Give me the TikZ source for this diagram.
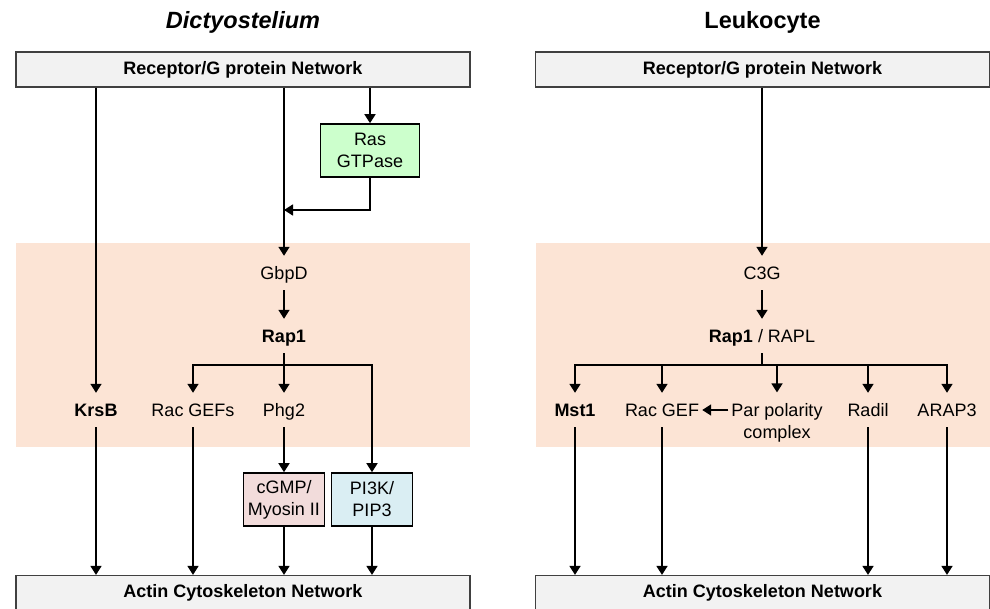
\documentclass[tikz,border=0pt]{standalone}
\usepackage{fontspec}
\setmainfont{Liberation Sans}
\usepackage{tikz}
\usetikzlibrary{positioning, backgrounds, calc, arrows.meta}
\definecolor{figgrey}{rgb}{0.949, 0.949, 0.949}
\definecolor{figedge}{rgb}{0.25, 0.25, 0.25}
\definecolor{figpeach}{rgb}{0.988, 0.894, 0.835}
\definecolor{figgreen}{rgb}{0.8, 1.0, 0.8}
\definecolor{figpink}{rgb}{0.949, 0.863, 0.859}
\definecolor{figblue}{rgb}{0.855, 0.933, 0.953}
\newcommand{\figfont}{\fontsize{18}{22}\selectfont}
\tikzset{
    netbox/.style={draw=figedge, line width=1.2pt, fill=figgrey, minimum width=454pt, minimum height=35pt, inner sep=0pt, font=\figfont\bfseries},
    band/.style={fill=figpeach, minimum width=454pt, minimum height=204pt, inner sep=0pt},
    pathbox/.style={draw=black, line width=1.6pt, minimum width=81pt, minimum height=53pt, inner sep=0pt, align=center, font=\figfont},
    gene/.style={minimum height=34pt, inner xsep=3pt, inner ysep=0pt, text height=13pt, text depth=0pt, font=\figfont},
    link/.style={line width=1.6pt, -{Triangle[length=9pt, width=11pt]}},
    plain/.style={line width=1.6pt},
}

\begin{document}
\begin{tikzpicture}
        \begin{scope}[x=1pt, y=-1pt]
        \useasboundingbox (0,0) rectangle (990,609);

        \node (titleL) [font=\fontsize{23.5}{28}\selectfont\bfseries\itshape] at (243,22) {Dictyostelium};
        \node (titleR) [font=\fontsize{23.5}{28}\selectfont\bfseries] at (762.5,22) {Leukocyte};

        \node (bandL) [band] at (243,345) {};
        \node (bandR) [band] at (762.5,345) {};

        \node (RecL) [netbox] at (243,69.5) {Receptor/G protein Network};
        \node (RecR) [netbox] at (762.5,69.5) {Receptor/G protein Network};
        \node (ActL) [netbox] at (243,593) {Actin Cytoskeleton Network};
        \node (ActR) [netbox] at (762.5,593) {Actin Cytoskeleton Network};

        \node (Ras) [pathbox, fill=figgreen, minimum width=99pt] at (370,150.5) {Ras\\GTPase};
        \node (GbpD) [gene] at (284,273) {GbpD};
        \node (Rap1) [gene, font=\figfont\bfseries] at (284,336) {Rap1};
        \node (KrsB) [gene, font=\figfont\bfseries] at (96,410) {KrsB};
        \node (RacGEFs) [gene] at (193,410) {Rac GEFs};
        \node (Phg2) [gene] at (284,410) {Phg2};
        \node (cGMP) [pathbox, fill=figpink] at (284,499.5) {cGMP/\\Myosin II};
        \node (PI3K) [pathbox, fill=figblue] at (372,499.5) {PI3K/\\PIP3};
        \coordinate (joinL) at (284,210);
        \coordinate (forkL) at (284,365);

        \node (C3G) [gene] at (762,273) {C3G};
        \node (Rap1R) [gene] at (762,336) {\textbf{Rap1} / RAPL};
        \node (Mst1) [gene, font=\figfont\bfseries] at (575,410) {Mst1};
        \node (RacGEF) [gene] at (662,410) {Rac GEF};
        \node (Par) [align=center, inner xsep=3pt, inner ysep=11pt, font=\figfont] at (777,423) {Par polarity\\complex};
        \node (Radil) [gene] at (868,410) {Radil};
        \node (ARAP3) [gene] at (947,410) {ARAP3};
        \coordinate (forkR) at (762,365);

        \draw [link] (RecL.south -| KrsB) -- (KrsB);
        \draw [link] (RecL.south -| GbpD) -- (GbpD);
        \draw [link] (RecL.south -| Ras) -- (Ras);
        \draw [link] (Ras) |- (joinL);
        \draw [link] (GbpD) -- (Rap1);
        \draw [plain] (Rap1) -- (forkL);
        \draw [link] (forkL) -| (RacGEFs);
        \draw [link] (forkL) -- (Phg2);
        \draw [link] (forkL) -| (PI3K);
        \draw [link] (Phg2) -- (cGMP);
        \draw [link] (KrsB) -- (ActL.north -| KrsB);
        \draw [link] (RacGEFs) -- (ActL.north -| RacGEFs);
        \draw [link] (cGMP) -- (ActL.north -| cGMP);
        \draw [link] (PI3K) -- (ActL.north -| PI3K);

        \draw [link] (RecR.south -| C3G) -- (C3G);
        \draw [link] (C3G) -- (Rap1R);
        \draw [plain] (Rap1R) -- (forkR);
        \draw [link] (forkR) -| (Mst1);
        \draw [link] (forkR) -| (RacGEF);
        \draw [link] (forkR) -| (Par);
        \draw [link] (forkR) -| (Radil);
        \draw [link] (forkR) -| (ARAP3);
        \draw [link] (Par.west |- RacGEF) -- (RacGEF);
        \draw [link] (Mst1) -- (ActR.north -| Mst1);
        \draw [link] (RacGEF) -- (ActR.north -| RacGEF);
        \draw [link] (Radil) -- (ActR.north -| Radil);
        \draw [link] (ARAP3) -- (ActR.north -| ARAP3);
        \end{scope}
    \end{tikzpicture}
\end{document}
